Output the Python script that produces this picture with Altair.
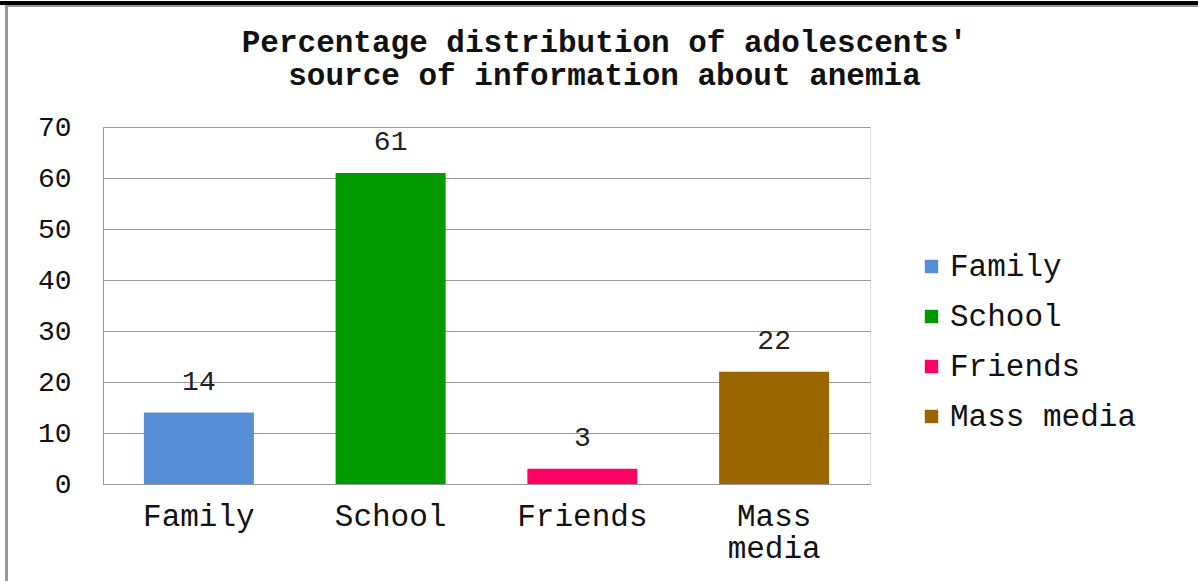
import altair as alt
import pandas as pd

categories = ["Family", "School", "Friends", "Mass media"]
values = [14, 61, 3, 22]
colors = ["#558ED5", "#009900", "#FF0066", "#996600"]
title_lines = ["Percentage distribution of adolescents'", "source of information about anemia"]

df = pd.DataFrame({"source": categories, "pct": values})
FONT = "Liberation Mono"

x = alt.X("source:N", sort=categories, title=None,
          scale=alt.Scale(paddingInner=0.42, paddingOuter=0.21),
          axis=alt.Axis(labelAngle=0, ticks=False, domain=True, domainColor="#999999",
                        labelFontSize=31, labelFont=FONT, labelColor="#111111",
                        labelPadding=17, labelLineHeight=32,
                        labelExpr="datum.label == 'Mass media' ? ['Mass', 'media'] : datum.label"))
y = alt.Y("pct:Q", title=None,
          scale=alt.Scale(domain=[0, 70], nice=False),
          axis=alt.Axis(values=[0, 10, 20, 30, 40, 50, 60, 70], ticks=False,
                        grid=True, gridColor="#999999", domainColor="#999999",
                        labelFontSize=28, labelFont=FONT, labelColor="#111111",
                        labelPadding=32))

bars = alt.Chart(df).mark_bar(size=110).encode(
    x=x, y=y,
    color=alt.Color("source:N", sort=categories,
                    scale=alt.Scale(domain=categories, range=colors),
                    legend=alt.Legend(title=None, orient="none", legendX=813, legendY=124,
                                      symbolType="square", symbolSize=180,
                                      symbolStrokeWidth=0, labelFont=FONT,
                                      labelFontSize=31, labelColor="#111111", labelLimit=400,
                                      rowPadding=18, labelOffset=3, padding=0)),
)

labels = alt.Chart(df).mark_text(font=FONT, fontSize=28, color="#222222",
                                 baseline="bottom", dy=-17).encode(
    x=alt.X("source:N", sort=categories),
    y="pct:Q",
    text="pct:Q",
)

# decorative frame of the original figure
frame_top = alt.Chart(df).mark_rule(color="#000000", strokeWidth=4).encode(
    x=alt.value(-103), x2=alt.value(1095), y=alt.value(-124))
frame_top2 = alt.Chart(df).mark_rule(color="#999999", strokeWidth=2).encode(
    x=alt.value(-98), x2=alt.value(1095), y=alt.value(-121))
frame_left = alt.Chart(df).mark_rule(color="#999999", strokeWidth=3).encode(
    x=alt.value(-96.5), y=alt.value(-122), y2=alt.value(454))

chart = alt.layer(bars, labels, frame_top, frame_top2, frame_left).properties(
    width=767, height=357,
    padding={"left": 103, "top": 127, "right": 328, "bottom": 97},
    autosize=alt.AutoSizeParams(type="none"),
    title=alt.TitleParams(text=title_lines, font=FONT, fontSize=31, fontWeight="bold",
                          color="#111111", anchor="middle", dx=118, offset=-91,
                          lineHeight=33),
).configure_view(stroke=None).configure(background="white")

chart.save("out.html", embed_options={"renderer": "svg", "actions": False})
